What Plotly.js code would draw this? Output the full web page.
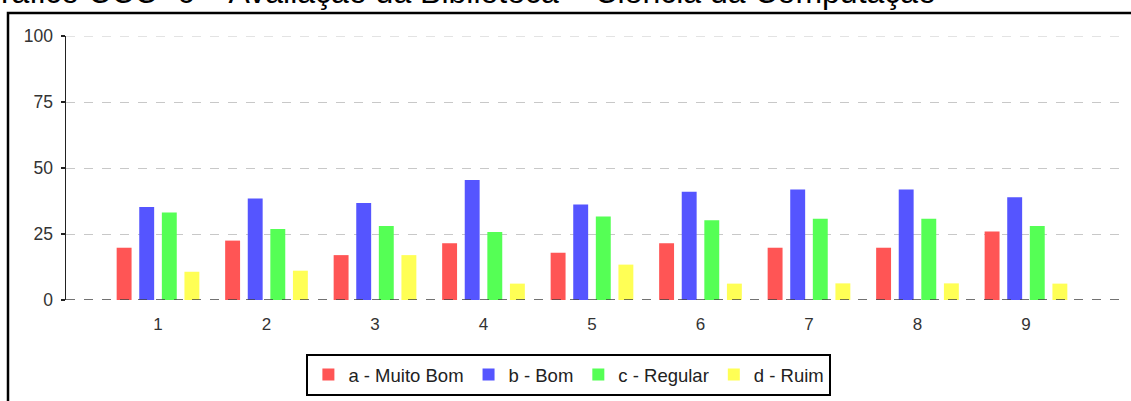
<!DOCTYPE html>
<html>
<head>
<meta charset="utf-8">
<script src="https://cdn.plot.ly/plotly-3.0.1.min.js"></script>
<style>
html,body{margin:0;padding:0;background:#fff;}
#chart{width:1131px;height:401px;}
</style>
</head>
<body>
<div id="chart"></div>
<script>
const categories = ["1","2","3","4","5","6","7","8","9"];
const seriesNames = ["a - Muito Bom","b - Bom","c - Regular","d - Ruim"];
const muitoBom = [19.8, 22.5, 17.0, 21.5, 17.9, 21.5, 19.8, 19.8, 25.9];
const bom      = [35.2, 38.4, 36.7, 45.5, 36.2, 41.0, 41.9, 41.9, 38.9];
const regular  = [33.1, 26.9, 28.0, 25.8, 31.6, 30.2, 30.8, 30.8, 28.0];
const ruim     = [10.7, 11.1, 17.0,  6.2, 13.4,  6.2,  6.3,  6.3,  6.2];
const yTicks = [0, 25, 50, 75, 100];
const titleText = "Gráfico CCC- 6 – Avaliação da Biblioteca – Ciência da Computação";

const colors = ["#FF5555","#5555FF","#55FF55","#FFFF55"];
const values = [muitoBom, bom, regular, ruim];

const traces = values.map((v,i)=>({
  type:'bar', x:categories, y:v, name:seriesNames[i],
  marker:{color:colors[i], line:{width:0}},
  hoverinfo:'x+y+name'
}));

const font = "Liberation Sans, Arial, sans-serif";
const L=66, R=1122, T=36, B=300;
const W=R-L, H=B-T;
const px2x = p => (p-L)/W;
const px2y = p => (B-p)/H;

const layout = {
  width:1131, height:401,
  margin:{l:L, r:1131-R, t:T, b:401-B, pad:0},
  paper_bgcolor:'#fff', plot_bgcolor:'#fff',
  font:{family:font, color:'#444', size:14},
  barmode:'group', bargap:0.167, bargroupgap:0.34,
  showlegend:true,
  legend:{orientation:'h', xref:'container', yref:'container', x:0.503, xanchor:'center', y:1-354/401, yanchor:'top',
          bordercolor:'#000', borderwidth:2, font:{family:font, size:18.5, color:'#222'},
          itemwidth:30, tracegroupgap:0, traceorder:'normal'},
  xaxis:{type:'category', range:[-0.848, 8.885], showgrid:false, zeroline:false, showline:false,
         ticks:'outside', ticklen:9, tickcolor:'rgba(0,0,0,0)',
         tickfont:{family:font, size:17, color:'#333'}, fixedrange:true},
  yaxis:{range:[0,100], tickvals:yTicks, ticktext:yTicks.map(String), showgrid:true, gridcolor:'#c8c8c8', griddash:'dash', gridwidth:1,
         zeroline:false, showline:true, linecolor:'#222', linewidth:1.5, ticks:'outside', ticklen:4, tickcolor:'#222', tickwidth:1.5,
         ticklabelstandoff:4,
         tickfont:{family:font, size:17.5, color:'#333'}, fixedrange:true},
  shapes:[
    {type:'line', xref:'paper', yref:'y', x0:0, x1:1, y0:100, y1:100, line:{color:'#c8c8c8', width:1, dash:'dash'}, layer:'below'},
    {type:'line', xref:'paper', yref:'y', x0:0, x1:1, y0:0, y1:0, line:{color:'#444', width:1.5, dash:'dash'}, layer:'above'},
    {type:'rect', xref:'paper', yref:'paper', x0:px2x(8), x1:px2x(1145), y0:px2y(13), y1:px2y(420), line:{color:'#000', width:2.5}, fillcolor:'rgba(0,0,0,0)'}
  ],
  annotations:[
    {text:titleText, xref:'paper', yref:'paper', x:px2x(-26), y:px2y(12.5), xanchor:'left', yanchor:'bottom', showarrow:false,
     font:{family:font, size:32, color:'#000'}}
  ]
};
Plotly.newPlot('chart', traces, layout, {displayModeBar:false, staticPlot:true});
</script>
</body>
</html>
